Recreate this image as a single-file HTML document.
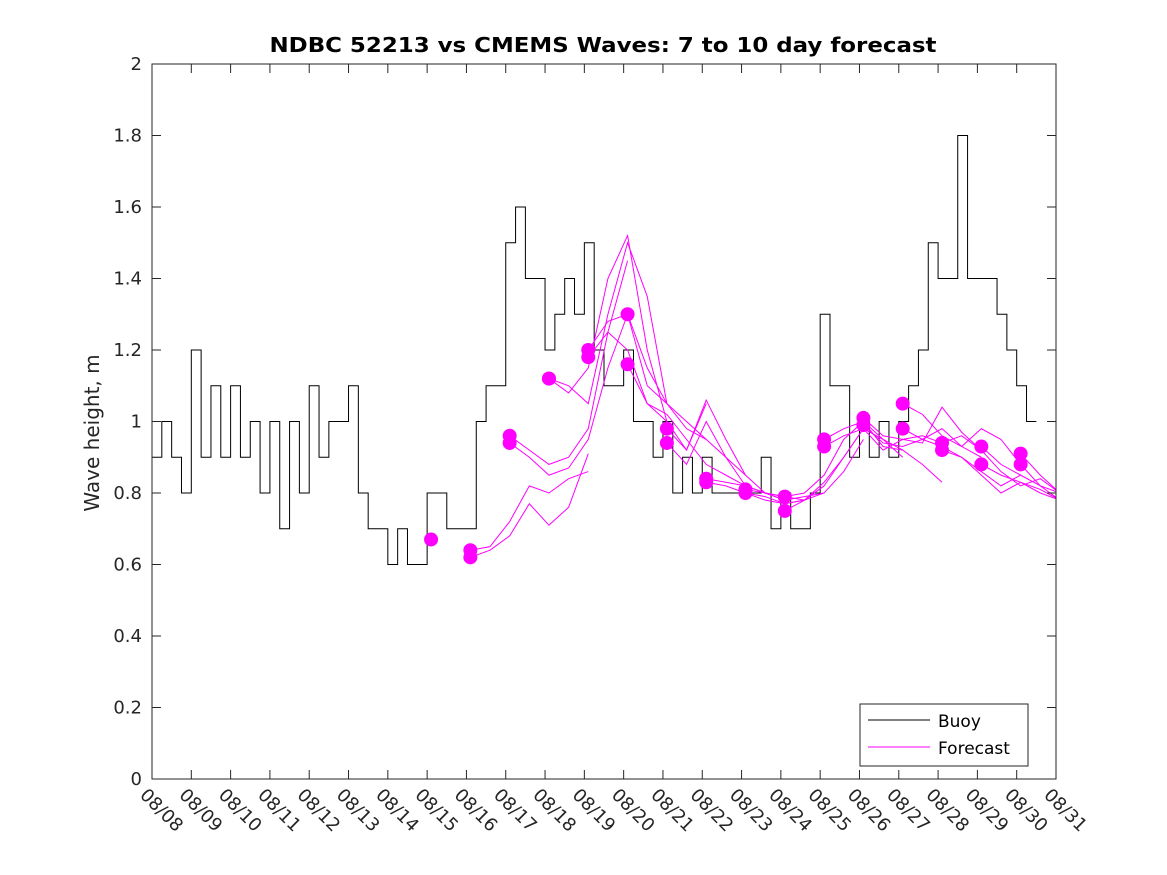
<!DOCTYPE html>
<html><head><meta charset="utf-8"><style>
body{margin:0;background:#fff}
svg{display:block;font-family:"DejaVu Sans","Liberation Sans",sans-serif}
</style></head><body>
<svg id="c" width="1167" height="875">
<rect width="1167" height="875" fill="#fff"/>
<text x="603" y="52" text-anchor="middle" font-size="20" font-weight="bold" fill="#000" textLength="667" lengthAdjust="spacingAndGlyphs">NDBC 52213 vs CMEMS Waves: 7 to 10 day forecast</text>
<text transform="translate(99,433) rotate(-90)" text-anchor="middle" font-size="20" fill="#262626">Wave height, m</text>
<g id="grid"></g>
<g id="series"></g>
<rect x="152" y="64" width="904" height="715" fill="none" stroke="#262626" stroke-width="1"/>
<g id="ticks"></g>
<g>
<rect x="860" y="704" width="168" height="62" fill="#fff" stroke="#262626"/>
<line x1="868" y1="720" x2="930" y2="720" stroke="#000"/>
<text x="938" y="727" font-size="17" fill="#000">Buoy</text>
<line x1="868" y1="747" x2="930" y2="747" stroke="#f0f"/>
<text x="938" y="754" font-size="17" fill="#000">Forecast</text>
</g>
</svg>
<script>
const xLabels=["08/08","08/09","08/10","08/11","08/12","08/13","08/14","08/15","08/16","08/17","08/18","08/19","08/20","08/21","08/22","08/23","08/24","08/25","08/26","08/27","08/28","08/29","08/30","08/31"];
const yTicks=[0,0.2,0.4,0.6,0.8,1,1.2,1.4,1.6,1.8,2];
const yTickLabels=["0","0.2","0.4","0.6","0.8","1","1.2","1.4","1.6","1.8","2"];
const buoyStartDay=8;
const buoyStepDays=0.25;
const buoy=[0.9,1.0,0.9,0.8,1.2,0.9,1.1,0.9,1.1,0.9,1.0,0.8,1.0,0.7,1.0,0.8,1.1,0.9,1.0,1.0,1.1,0.8,0.7,0.7,0.6,0.7,0.6,0.6,0.8,0.8,0.7,0.7,0.7,1.0,1.1,1.1,1.5,1.6,1.4,1.4,1.2,1.3,1.4,1.3,1.5,1.2,1.1,1.1,1.2,1.0,1.0,0.9,1.0,0.8,0.9,0.8,0.9,0.8,0.8,0.8,0.8,0.8,0.9,0.7,0.8,0.7,0.7,0.8,1.3,1.1,1.1,0.9,1.0,0.9,1.0,0.9,1.0,1.1,1.2,1.5,1.4,1.4,1.8,1.4,1.4,1.4,1.3,1.2,1.1,1.0];
const runStarts=[15.1,16.1,16.1,17.1,17.1,18.1,18.1,19.1,19.1,20.1,20.1,21.1,21.1,22.1,22.1,23.1,23.1,24.1,24.1,25.1,25.1,26.1,26.1,27.1,27.1,28.1,28.1,29.1,29.1,30.1,30.1];
const runStepDays=0.5;
const runs=[
[0.67],
[0.64,0.65,0.72,0.82,0.80,0.84,0.86],
[0.62,0.64,0.68,0.77,0.71,0.76,0.91],
[0.96,0.92,0.88,0.90,0.98,1.25,1.45],
[0.94,0.90,0.85,0.87,0.95,1.15,1.30],
[1.12,1.10,1.05,1.30,1.50,1.35,1.05],
[1.12,1.08,1.15,1.40,1.52,1.20,1.00],
[1.20,1.28,1.30,1.15,1.05,0.98,0.95],
[1.18,1.25,1.20,1.05,1.00,0.92,1.05],
[1.30,1.10,1.05,1.00,0.95,0.90,0.85],
[1.16,1.05,1.02,0.95,0.88,0.85,0.82],
[0.98,0.92,1.06,0.95,0.85,0.80,0.79],
[0.94,0.88,1.00,0.90,0.82,0.80,0.78],
[0.84,0.83,0.82,0.80,0.78,0.79,0.80],
[0.83,0.82,0.80,0.78,0.77,0.78,0.82],
[0.81,0.80,0.79,0.78,0.80,0.86,0.95],
[0.80,0.79,0.77,0.78,0.83,0.90,0.98],
[0.79,0.80,0.85,0.95,1.00,0.93,0.92],
[0.75,0.78,0.82,0.90,0.98,0.95,0.90],
[0.95,0.98,1.00,0.95,0.92,0.88,0.83],
[0.93,0.96,0.98,0.92,0.95,0.96,0.94],
[1.01,0.96,0.95,0.94,1.04,0.97,0.92],
[0.99,0.94,0.93,0.95,0.98,0.93,0.90],
[1.05,1.02,0.96,0.93,0.98,0.95,0.88],
[0.98,0.95,0.93,0.90,0.86,0.82,0.85],
[0.94,0.96,0.92,0.86,0.82,0.84,0.80],
[0.92,0.90,0.85,0.80,0.83,0.81,0.78],
[0.93,0.88,0.85,0.82,0.80,0.78],
[0.88,0.85,0.83,0.80,0.78,0.76],
[0.91,0.85,0.80],
[0.88,0.82,0.78]];
const X0=152,X1=1056,Y0=779,Y1=64,D0=8,D1=31;
const xs=d=>X0+(d-D0)/(D1-D0)*(X1-X0);
const ys=v=>Y0-v/2*(Y0-Y1);
const NS="http://www.w3.org/2000/svg";
function mk(t,a,p){const e=document.createElementNS(NS,t);for(const k in a)e.setAttribute(k,a[k]);p.appendChild(e);return e;}
const tk=document.getElementById('ticks'),se=document.getElementById('series');
xLabels.forEach((l,i)=>{const x=xs(D0+i);
const a=mk('line',{x1:x,y1:Y0,x2:x,y2:Y0-9,stroke:'#262626'},tk);


const b=mk('line',{x1:x,y1:Y1,x2:x,y2:Y1+9,stroke:'#262626'},tk);


const t=mk('text',{transform:`translate(${x-13},${Y0+17}) rotate(45)`,'font-size':18,fill:'#262626'},tk);t.textContent=l;


});
yTicks.forEach((v,i)=>{const y=ys(v);
const a=mk('line',{x1:X0,y1:y,x2:X0+9,y2:y,stroke:'#262626'},tk);


const b=mk('line',{x1:X1,y1:y,x2:X1-9,y2:y,stroke:'#262626'},tk);


const t=mk('text',{x:X0-10,y:y+6,'text-anchor':'end','font-size':18,fill:'#262626'},tk);t.textContent=yTickLabels[i];


});
let pts=[];buoy.forEach((v,i)=>{const x0=xs(buoyStartDay+i*buoyStepDays),x1=xs(buoyStartDay+(i+1)*buoyStepDays);pts.push(x0+','+ys(v),x1+','+ys(v));});
const bl=mk('polyline',{points:pts.join(' '),fill:'none',stroke:'#000','stroke-width':1},se);


mk('clipPath',{id:'clp'},se).appendChild(document.createElementNS(NS,'rect'));
const cr=se.querySelector('#clp rect');cr.setAttribute('x',X0);cr.setAttribute('y',Y1);cr.setAttribute('width',X1-X0);cr.setAttribute('height',Y0-Y1);
runs.forEach((r,j)=>{const p=r.map((v,i)=>xs(runStarts[j]+i*runStepDays)+','+ys(v)).join(' ');
if(r.length>1){const l=mk('polyline',{points:p,fill:'none',stroke:'#f0f','stroke-width':1,'clip-path':'url(#clp)'},se);

}
const c=mk('circle',{cx:xs(runStarts[j]),cy:ys(r[0]),r:7,fill:'#f0f'},se);


});
</script>
</body></html>
